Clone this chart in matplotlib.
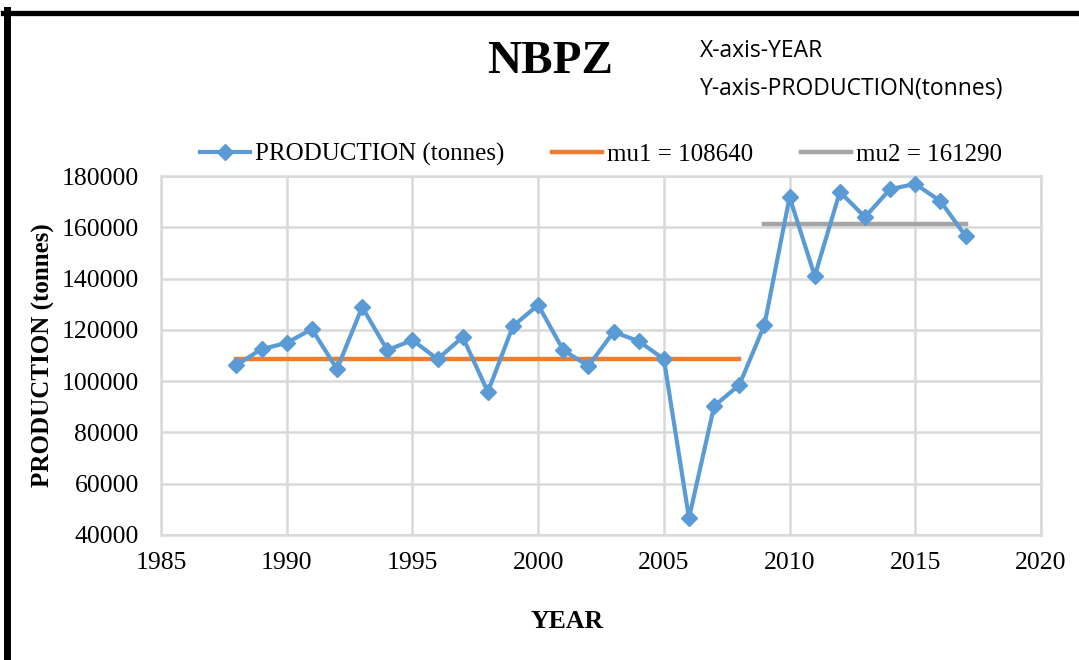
import matplotlib
matplotlib.use("Agg")
import matplotlib.pyplot as plt
from matplotlib.lines import Line2D

# data
years = list(range(1988, 2018))
production = [106300, 112500, 114900, 120300, 104700, 128900, 112100, 116000,
              108600, 117200, 95800, 121500, 129700, 112100, 105900, 119200,
              115600, 108600, 46600, 90300, 98500, 121900, 171800, 141000,
              173800, 164000, 174900, 176900, 170200, 156600]
mu1 = 108640
mu1_years = [1988, 2008]
mu2 = 161290
mu2_years = [2009, 2017]

x_ticks = [1985, 1990, 1995, 2000, 2005, 2010, 2015, 2020]
y_ticks = [40000, 60000, 80000, 100000, 120000, 140000, 160000, 180000]

serif = ["Liberation Serif", "DejaVu Serif"]
narrow = ["Liberation Sans Narrow", "Open Sans", "DejaVu Sans"]

fig = plt.figure(figsize=(10.79, 6.6), dpi=100)
ax = fig.add_axes([0.1492, 0.1894, 0.8156, 0.5439])

ax.plot(years, production, color="#5B9BD5", lw=3, marker="D", ms=8.5,
        label="PRODUCTION (tonnes)", zorder=3)
ax.plot(mu1_years, [mu1, mu1], color="#ED7D31", lw=3.2, label=f"mu1 = {mu1}", zorder=2)
ax.plot(mu2_years, [mu2, mu2], color="#A5A5A5", lw=3.2, label=f"mu2 = {mu2}", zorder=2)

ax.set_xlim(1985, 2020)
ax.set_ylim(40000, 180000)
ax.set_xticks(x_ticks)
ax.set_yticks(y_ticks)
ax.grid(True, color="#D9D9D9", lw=1.8)
ax.set_axisbelow(True)
for s in ax.spines.values():
    s.set_color("#D9D9D9")
    s.set_linewidth(1.8)
ax.tick_params(length=0, labelsize=18.5)
ax.tick_params(axis="x", pad=12)
ax.tick_params(axis="y", pad=16)
for lab in ax.get_xticklabels() + ax.get_yticklabels():
    lab.set_family(serif)

ax.set_xlabel("YEAR", family=serif, fontweight="bold", fontsize=18.5)
ax.set_ylabel("PRODUCTION (tonnes)", family=serif, fontweight="bold", fontsize=18)
ax.xaxis.set_label_coords(0.461, -0.242)
ax.yaxis.set_label_coords(-0.134, 0.5)
ax.xaxis.label.set_va("center")
ax.yaxis.label.set_va("center")

ax.legend(loc="center", bbox_to_anchor=(0.5, 1.06), ncol=3, frameon=False,
          prop={"family": serif, "size": 18}, handlelength=2.0,
          handletextpad=0.2, columnspacing=1.9, borderaxespad=0)

fig.text(550 / 1079, 1 - 62 / 660, "NBPZ", family=serif, fontweight="bold",
         fontsize=34, ha="center", va="center")
fig.text(700 / 1079, 1 - 51 / 660, "X-axis-YEAR", family=narrow, fontsize=16.5,
         ha="left", va="center")
fig.text(700 / 1079, 1 - 89 / 660, "Y-axis-PRODUCTION(tonnes)", family=narrow,
         fontsize=16.5, ha="left", va="center")

# black frame on top and left side
fig.add_artist(Line2D([3 / 1079, 1], [1 - 12.5 / 660, 1 - 12.5 / 660],
                      transform=fig.transFigure, color="black", lw=3.8))
fig.add_artist(Line2D([6.5 / 1079, 6.5 / 1079], [0, 1 - 10 / 660],
                      transform=fig.transFigure, color="black", lw=5))

fig.savefig("out.png", dpi=100)
